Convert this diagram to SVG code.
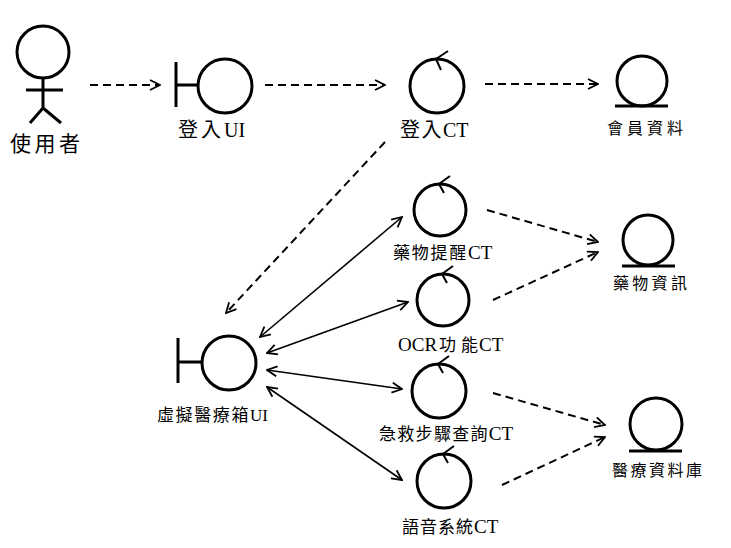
<svg xmlns="http://www.w3.org/2000/svg" width="731" height="548" viewBox="0 0 731 548">
<style>
.sym{fill:none;stroke:#000;stroke-width:3}
.dash{fill:none;stroke:#000;stroke-width:2;stroke-dasharray:8 5}
.solid{fill:none;stroke:#000;stroke-width:1.6}
.tick{fill:none;stroke:#000;stroke-width:2}
text{font-family:"Liberation Serif","Noto Sans CJK TC",serif;fill:#000}
.cj{font-family:"Noto Sans CJK TC","Liberation Serif",serif}
</style>
<defs>
<marker id="arr" viewBox="0 0 12 12" refX="11" refY="6" markerWidth="12" markerHeight="12" markerUnits="userSpaceOnUse" orient="auto-start-reverse">
<path d="M1,1 L11,6 L1,11" fill="none" stroke="#000" stroke-width="1.8"/>
</marker>
</defs>
<rect width="731" height="548" fill="#fff"/>

<g id="connectors">
<line class="dash" x1="90" y1="85" x2="160" y2="85" marker-end="url(#arr)"/>
<line class="dash" x1="265" y1="85" x2="385" y2="85" marker-end="url(#arr)"/>
<line class="dash" x1="485" y1="84" x2="598" y2="84" marker-end="url(#arr)"/>
<line class="dash" x1="385" y1="142" x2="226" y2="313" marker-end="url(#arr)"/>
<line class="solid" x1="260" y1="337" x2="402" y2="217" marker-start="url(#arr)" marker-end="url(#arr)"/>
<line class="solid" x1="267" y1="353" x2="408" y2="302" marker-start="url(#arr)" marker-end="url(#arr)"/>
<line class="solid" x1="267" y1="370" x2="402" y2="389" marker-start="url(#arr)" marker-end="url(#arr)"/>
<line class="solid" x1="267" y1="387" x2="402" y2="480" marker-start="url(#arr)" marker-end="url(#arr)"/>
<line class="dash" x1="487" y1="210" x2="598" y2="242" marker-end="url(#arr)"/>
<line class="dash" x1="493" y1="300" x2="598" y2="252" marker-end="url(#arr)"/>
<line class="dash" x1="493" y1="393" x2="605" y2="425" marker-end="url(#arr)"/>
<line class="dash" x1="502" y1="485" x2="605" y2="437" marker-end="url(#arr)"/>
</g>

<g id="actor-user">
<circle class="sym" cx="43" cy="52" r="26"/>
<path class="sym" d="M43,78 V108 M26,90 H63 M43,108 L30,123 M43,108 L61,123"/>
<text class="cj" x="10" y="151" font-size="21" letter-spacing="3.5">使用者</text>
</g>

<g id="boundary-login-ui">
<path class="sym" d="M176,62 V107 M176,85 H198"/>
<circle class="sym" cx="225" cy="86" r="27"/>
<text x="178" y="137" font-size="20"><tspan class="cj" letter-spacing="3">登入</tspan>UI</text>
</g>

<g id="control-login-ct">
<circle class="sym" cx="437" cy="86" r="27"/>
<path class="tick" d="M448,51 L436,59 L441,70"/>
<text x="400" y="137" font-size="20"><tspan class="cj" letter-spacing="1.5">登入</tspan>CT</text>
</g>

<g id="entity-member">
<circle class="sym" cx="642" cy="81" r="25"/>
<path class="sym" d="M615,106 H668"/>
<text class="cj" x="607" y="134" font-size="16" letter-spacing="4">會員資料</text>
</g>

<g id="boundary-medbox-ui">
<path class="sym" d="M178,338 V383 M178,362 H202"/>
<circle class="sym" cx="229" cy="363" r="27"/>
<text x="157" y="421" font-size="17"><tspan class="cj" letter-spacing="1.6">虛擬醫療箱</tspan>UI</text>
</g>

<g id="control-reminder-ct">
<circle class="sym" cx="440" cy="210" r="26"/>
<path class="tick" d="M450,176 L439,184 L444,193"/>
<text x="393" y="259" font-size="19"><tspan class="cj" font-size="17" letter-spacing="1.75">藥物提醒</tspan>CT</text>
</g>

<g id="control-ocr-ct">
<circle class="sym" cx="443" cy="300" r="26"/>
<path class="tick" d="M453,266 L442,274 L447,283"/>
<text x="398" y="351" font-size="19">OCR<tspan class="cj" font-size="17" dx="2">功</tspan><tspan class="cj" font-size="17" dx="5">能</tspan><tspan dx="1">CT</tspan></text>
</g>

<g id="control-firstaid-ct">
<circle class="sym" cx="439" cy="391" r="27"/>
<path class="tick" d="M449,356 L438,364 L443,373"/>
<text x="379" y="440" font-size="19"><tspan class="cj" font-size="17" letter-spacing="1.3">急救步驟查詢</tspan>CT</text>
</g>

<g id="control-voice-ct">
<circle class="sym" cx="444" cy="481" r="27"/>
<path class="tick" d="M454,446 L443,454 L448,463"/>
<text x="402" y="533" font-size="19"><tspan class="cj" font-size="17" letter-spacing="1">語音系統</tspan>CT</text>
</g>

<g id="entity-druginfo">
<circle class="sym" cx="648" cy="240" r="25"/>
<path class="sym" d="M622,266 H675"/>
<text class="cj" x="613" y="289" font-size="16" letter-spacing="3.3">藥物資訊</text>
</g>

<g id="entity-meddb">
<circle class="sym" cx="656" cy="424" r="26"/>
<path class="sym" d="M629,451 H682"/>
<text class="cj" x="612" y="476" font-size="16" letter-spacing="2.5">醫療資料庫</text>
</g>
</svg>
